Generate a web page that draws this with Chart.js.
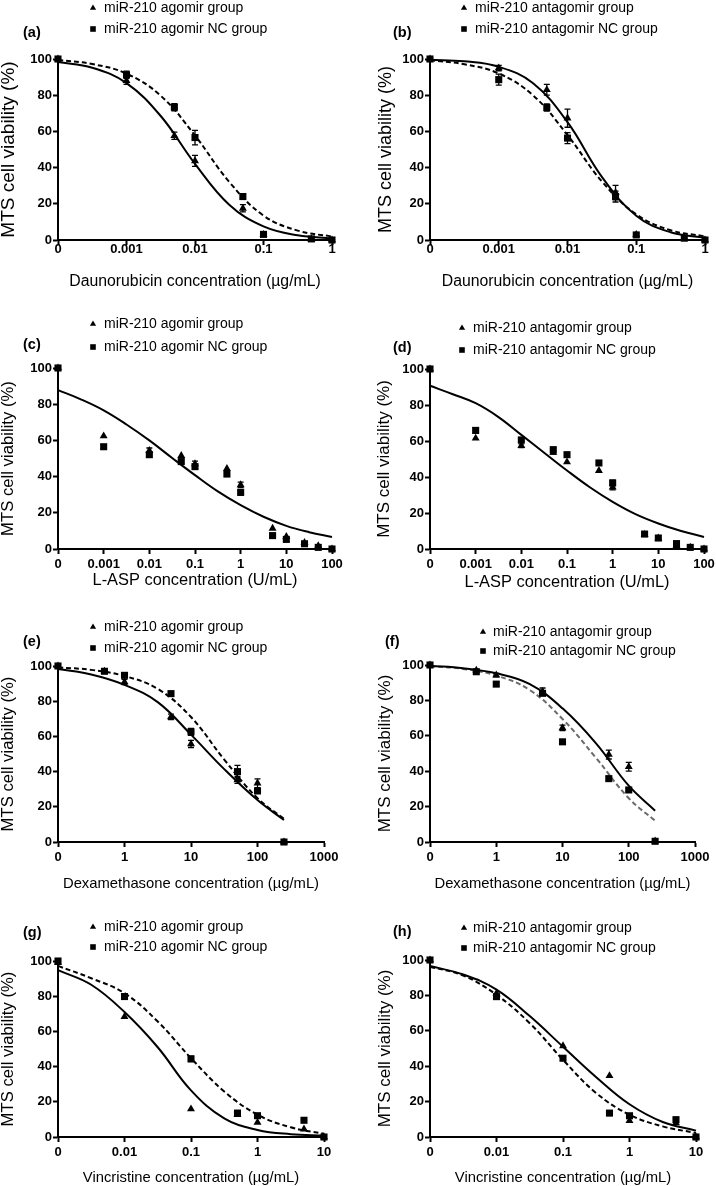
<!DOCTYPE html>
<html><head><meta charset="utf-8">
<script src="https://cdn.jsdelivr.net/npm/chart.js@4.4.1/dist/chart.umd.min.js"></script>
<style>
html,body{margin:0;padding:0;background:#fff;width:716px;height:1186px;overflow:hidden;position:relative}
canvas{position:absolute}
</style></head><body>
<script>
const FONT = '"Liberation Sans", Arial, Helvetica, sans-serif';
const yTitleText = 'MTS cell viability (%)';
const agomirLabels = ['miR-210 agomir group', 'miR-210 agomir NC group'];
const antagomirLabels = ['miR-210 antagomir group', 'miR-210 antagomir NC group'];

// ---- Daunorubicin (a, b) ----
const daunoDoses = [0, 0.001, 0.005, 0.01, 0.05, 0.1, 0.5, 1];
const daunoTickValues = [0, 0.001, 0.01, 0.1, 1];
const daunoTickLabels = ['0', '0.001', '0.01', '0.1', '1'];
const daunoFitDoses = [0, 0.000316, 0.001, 0.00316, 0.01, 0.0316, 0.1, 0.316, 1];
const a_agomir = [100, 88, 57.6, 43.7, 17.5, 3, 0.5, 0];
const a_agomirErr = [0, 2, 2, 3, 2, 0, 0, 0];
const a_agomirNC = [100, 91.3, 73.4, 56.6, 24, 3.1, 0.6, 0];
const a_agomirNCErr = [0, 2, 2, 4, 1.5, 0, 0, 0];
const a_fitAgomir = [98.3, 95.2, 86.7, 68.5, 42.1, 19.5, 7.5, 2.6, 0.9];
const a_fitAgomirNC = [99.5, 97.2, 91.9, 79.7, 57.7, 32.1, 13.5, 5.2, 1.9];
const b_antagomir = [100, 95, 83, 67.3, 26.2, 3, 1, 0];
const b_antagomirErr = [0, 1.5, 3, 5, 4, 0, 0, 0];
const b_antagomirNC = [100, 88.6, 73.2, 56.3, 24, 2.8, 1, 0];
const b_antagomirNCErr = [0, 3, 2, 3, 3, 1, 0, 0];
const b_fitAntagomir = [99.6, 98.7, 95.7, 86.6, 65.1, 34.9, 13.4, 4.3, 1.3];
const b_fitAntagomirNC = [99.4, 97.1, 92, 79.9, 58, 32.4, 14.2, 5.4, 2];

// ---- L-ASP (c, d) ----
const aspDoses = [0, 0.001, 0.01, 0.05, 0.1, 0.5, 1, 5, 10, 25, 50, 100];
const aspTickValues = [0, 0.001, 0.01, 0.1, 1, 10, 100];
const aspTickLabels = ['0', '0.001', '0.01', '0.1', '1', '10', '100'];
const aspFitDoses = [0, 0.000316, 0.001, 0.00316, 0.01, 0.0316, 0.1, 0.316, 1, 3.16, 10, 31.6, 100];
const c_agomir = [100, 62.4, 54.3, 51.6, 47, 44.4, 35.4, 11.4, 6.8, 3.5, 1.7, 0];
const c_agomirErr = [0, 0, 1.5, 0, 1.5, 0, 1.5, 0, 0, 0, 0, 0];
const c_agomirNC = [100, 56.5, 52.1, 48.3, 45.5, 41.4, 31.3, 7.4, 5.3, 2.9, 0.9, 0];
const c_agomirNCErr = [0, 1, 1, 1, 1, 1, 1.5, 1, 0, 0, 0, 0];
const c_fit = [87.8, 82.7, 76.6, 68.8, 60, 50.3, 40.8, 31.8, 24.2, 17.8, 12.8, 9.3, 6.6];
const d_antagomir = [100, 61.5, 57.4, 53.7, 48.3, 43.5, 34.3, 8, 6, 1.8, 0.9, 0];
const d_antagomirErr = [0, 0, 1, 1, 0, 0, 1.5, 0, 0, 0, 0, 0];
const d_antagomirNC = [100, 65.9, 60.6, 55.2, 52.4, 47.8, 36.7, 8.3, 6.1, 3, 0.9, 0];
const d_antagomirNCErr = [0, 1.5, 1, 1, 1, 1, 1.5, 0, 0, 1, 0, 0];
const d_fit = [90.7, 86, 81, 73.3, 63.4, 53.5, 43.6, 34.3, 26.2, 19.4, 14.2, 10, 6.7];

// ---- Dexamethasone (e, f) ----
const dexDoses = [0, 0.5, 1, 5, 10, 50, 100, 250];
const dexTickValues = [0, 1, 10, 100, 1000];
const dexTickLabels = ['0', '1', '10', '100', '1000'];
const dexFitDoses = [0, 0.316, 1, 3.16, 10, 31.6, 100, 250];
const e_agomir = [100, 97, 90.9, 71.1, 55.7, 35.3, 33.4, 0];
const e_agomirErr = [0, 0, 1.5, 1.5, 2, 2, 2.5, 0];
const e_agomirNC = [100, 97, 94.7, 84.3, 62.6, 40, 29, 0];
const e_agomirNCErr = [0, 0, 1, 1, 2, 3.5, 1, 0];
const e_fitAgomir = [98.3, 95.2, 89.3, 79.5, 61, 41.4, 23.8, 12.5];
const e_fitAgomirNC = [99.2, 97.8, 94.3, 87, 71, 46.8, 24.9, 13.2];
const f_antagomir = [100, 97, 94.3, 85, 64.5, 49.4, 42.5, 0.5];
const f_antagomirErr = [0, 0, 1, 2, 1.5, 2.5, 2.5, 0];
const f_antagomirNC = [100, 96.2, 89.2, 84, 56.6, 35.8, 29.4, 0.4];
const f_antagomirNCErr = [0, 0, 1, 1, 1, 1, 1, 1];
const f_fitAntagomir = [99.5, 98.2, 95.3, 89.3, 75.5, 56, 31.8, 17.7];
const f_fitAntagomirNC = [99.3, 97.8, 94, 86, 69.5, 47.8, 24.7, 12];

// ---- Vincristine (g, h) ----
const vinDoses = [0, 0.01, 0.1, 0.5, 1, 5, 10];
const vinTickValues = [0, 0.01, 0.1, 1, 10];
const vinTickLabels = ['0', '0.01', '0.1', '1', '10'];
const vinFitDoses = [0, 0.00316, 0.01, 0.0316, 0.1, 0.316, 1, 3.16, 10];
const g_agomir = [99, 68.4, 15.9, 12.6, 8.3, 4.5, 0];
const g_agomirErr = [0, 0, 0, 0, 0, 0, 0];
const g_agomirNC = [100, 79.8, 44.4, 13.6, 12.1, 9.5, 0];
const g_agomirNCErr = [1, 1, 1.5, 1, 0, 0, 0];
const g_fitAgomir = [94.8, 86.5, 71, 51, 26.5, 10.6, 4, 1.6, 0.8];
const g_fitAgomirNC = [97.2, 90.2, 81.7, 65.6, 44.8, 25.9, 12.7, 5.5, 1.9];
const h_antagomir = [100, 81.2, 51.5, 34.6, 9.2, 7.9, 0];
const h_antagomirErr = [0, 0, 0, 0, 0, 0, 0];
const h_antagomirNC = [100, 79.3, 44.5, 13.5, 12, 9.8, 0];
const h_antagomirNCErr = [1, 1, 1, 0, 0, 1, 0];
const h_fitAntagomir = [96.6, 91.8, 83.3, 68.3, 51, 33.8, 18.5, 8.5, 3.6];
const h_fitAntagomirNC = [96.2, 91.2, 80.3, 64.3, 43.6, 24.8, 12.6, 6, 2.3];

const SOLID = {dash: [], color: '#000'};
const DASHED = {dash: [5, 3], color: '#000'};
const GREYDASH = {dash: [5, 3], color: '#6a6a6a'};

const panels = [
  {label: '(a)', box: {x: 0, y: 0, w: 358, h: 300}, plot: {L: 58, T: 59, R: 332, B: 240},
   doses: daunoDoses, tickValues: daunoTickValues, tickLabels: daunoTickLabels, fitDoses: daunoFitDoses,
   series: agomirLabels, tri: a_agomir, triErr: a_agomirErr, sq: a_agomirNC, sqErr: a_agomirNCErr,
   fits: [[a_fitAgomir, SOLID], [a_fitAgomirNC, DASHED]],
   xTitle: 'Daunorubicin concentration (µg/mL)', xTitleSize: 15.8, xTitleCY: 282, xTickPad: -3.8,
   yTitleSize: 19, yTitleCX: 8.5, legend: {mx: 93, tx: 104, y: [8, 29]}, lab: {x: 23, y: 33}},
  {label: '(b)', box: {x: 358, y: 0, w: 380, h: 300}, plot: {L: 430, T: 59, R: 705, B: 240},
   doses: daunoDoses, tickValues: daunoTickValues, tickLabels: daunoTickLabels, fitDoses: daunoFitDoses,
   series: antagomirLabels, tri: b_antagomir, triErr: b_antagomirErr, sq: b_antagomirNC, sqErr: b_antagomirNCErr,
   fits: [[b_fitAntagomir, SOLID], [b_fitAntagomirNC, DASHED]],
   xTitle: 'Daunorubicin concentration (µg/mL)', xTitleSize: 15.8, xTitleCY: 282, xTickPad: -3.8,
   yTitleSize: 18, yTitleCX: 386, legend: {mx: 464, tx: 475, y: [8, 29]}, lab: {x: 393, y: 33}},
  {label: '(c)', box: {x: 0, y: 295, w: 358, h: 305}, plot: {L: 58, T: 368, R: 332, B: 549},
   doses: aspDoses, tickValues: aspTickValues, tickLabels: aspTickLabels, fitDoses: aspFitDoses,
   series: agomirLabels, tri: c_agomir, triErr: c_agomirErr, sq: c_agomirNC, sqErr: c_agomirNCErr,
   fits: [[c_fit, SOLID]],
   xTitle: 'L-ASP concentration (U/mL)', xTitleSize: 16.4, xTitleCY: 580, xTickPad: 2.7,
   yTitleSize: 16.7, yTitleCX: 8.5, legend: {mx: 93, tx: 104, y: [324, 347]}, lab: {x: 23, y: 345}},
  {label: '(d)', box: {x: 358, y: 295, w: 380, h: 305}, plot: {L: 430, T: 369, R: 704, B: 549},
   doses: aspDoses, tickValues: aspTickValues, tickLabels: aspTickLabels, fitDoses: aspFitDoses,
   series: antagomirLabels, tri: d_antagomir, triErr: d_antagomirErr, sq: d_antagomirNC, sqErr: d_antagomirNCErr,
   fits: [[d_fit, SOLID]],
   xTitle: 'L-ASP concentration (U/mL)', xTitleSize: 16.4, xTitleCY: 582, xTickPad: 2.7,
   yTitleSize: 17, yTitleCX: 384, legend: {mx: 462, tx: 473, y: [328, 350]}, lab: {x: 393, y: 348}},
  {label: '(e)', box: {x: 0, y: 590, w: 358, h: 310}, plot: {L: 58, T: 666, R: 324, B: 842},
   doses: dexDoses, tickValues: dexTickValues, tickLabels: dexTickLabels, fitDoses: dexFitDoses,
   series: agomirLabels, tri: e_agomir, triErr: e_agomirErr, sq: e_agomirNC, sqErr: e_agomirNCErr,
   fits: [[e_fitAgomir, SOLID], [e_fitAgomirNC, DASHED]],
   xTitle: 'Dexamethasone concentration (µg/mL)', xTitleSize: 14.8, xTitleCY: 884, xTickPad: 2.7,
   yTitleSize: 16.7, yTitleCX: 8.5, legend: {mx: 93, tx: 104, y: [627, 648]}, lab: {x: 23, y: 642}},
  {label: '(f)', box: {x: 358, y: 590, w: 380, h: 310}, plot: {L: 430, T: 665, R: 695, B: 842},
   doses: dexDoses, tickValues: dexTickValues, tickLabels: dexTickLabels, fitDoses: dexFitDoses,
   series: antagomirLabels, tri: f_antagomir, triErr: f_antagomirErr, sq: f_antagomirNC, sqErr: f_antagomirNCErr,
   fits: [[f_fitAntagomir, SOLID], [f_fitAntagomirNC, GREYDASH]],
   xTitle: 'Dexamethasone concentration (µg/mL)', xTitleSize: 14.8, xTitleCY: 884, xTickPad: 2.7,
   yTitleSize: 17, yTitleCX: 385, legend: {mx: 483, tx: 493, y: [632, 651]}, lab: {x: 385, y: 642}},
  {label: '(g)', box: {x: 0, y: 885, w: 358, h: 310}, plot: {L: 58, T: 961, R: 324, B: 1137},
   doses: vinDoses, tickValues: vinTickValues, tickLabels: vinTickLabels, fitDoses: vinFitDoses,
   series: agomirLabels, tri: g_agomir, triErr: g_agomirErr, sq: g_agomirNC, sqErr: g_agomirNCErr,
   fits: [[g_fitAgomir, SOLID], [g_fitAgomirNC, DASHED]],
   xTitle: 'Vincristine concentration (µg/mL)', xTitleSize: 14.8, xTitleCY: 1178, xTickPad: 2.7,
   yTitleSize: 16.7, yTitleCX: 8.5, legend: {mx: 93, tx: 104, y: [927, 947]}, lab: {x: 23, y: 933}},
  {label: '(h)', box: {x: 358, y: 885, w: 380, h: 310}, plot: {L: 430, T: 960, R: 696, B: 1137},
   doses: vinDoses, tickValues: vinTickValues, tickLabels: vinTickLabels, fitDoses: vinFitDoses,
   series: antagomirLabels, tri: h_antagomir, triErr: h_antagomirErr, sq: h_antagomirNC, sqErr: h_antagomirNCErr,
   fits: [[h_fitAntagomir, SOLID], [h_fitAntagomirNC, DASHED]],
   xTitle: 'Vincristine concentration (µg/mL)', xTitleSize: 14.8, xTitleCY: 1178, xTickPad: 2.7,
   yTitleSize: 17, yTitleCX: 385, legend: {mx: 464, tx: 473, y: [928, 948]}, lab: {x: 393, y: 932}}
];

const decor = {
  id: 'decor',
  afterDatasetsDraw(chart, args, o) {
    const ctx = chart.ctx, xs = chart.scales.x, ys = chart.scales.y;
    ctx.save();
    ctx.strokeStyle = '#000'; ctx.lineWidth = 1.3;
    chart.data.datasets.forEach(ds => {
      if (!ds.errors) return;
      ds.data.forEach((p, i) => {
        const e = ds.errors[i];
        if (!e) return;
        const x = xs.getPixelForValue(p.x);
        const y1 = ys.getPixelForValue(p.y + e), y2 = ys.getPixelForValue(Math.max(0, p.y - e));
        ctx.beginPath();
        ctx.moveTo(x, y1); ctx.lineTo(x, y2);
        ctx.moveTo(x - 3, y1); ctx.lineTo(x + 3, y1);
        ctx.moveTo(x - 3, y2); ctx.lineTo(x + 3, y2);
        ctx.stroke();
      });
    });
    ctx.restore();
  },
  afterDraw(chart, args, o) {
    const ctx = chart.ctx;
    ctx.save();
    ctx.fillStyle = '#000';
    ctx.textBaseline = 'middle'; ctx.textAlign = 'left';
    ctx.font = 'bold 14.5px ' + FONT;
    ctx.fillText(o.label, o.labX, o.labY);
    ctx.font = '14px ' + FONT;
    [0, 1].forEach(k => {
      const ds = chart.data.datasets[k];
      const x = o.mx, y = o.ly[k];
      ctx.beginPath();
      if (ds.pointStyle === 'triangle') {
        const r = 3.6;
        ctx.moveTo(x, y - r); ctx.lineTo(x + r * 0.866, y + r / 2); ctx.lineTo(x - r * 0.866, y + r / 2);
        ctx.closePath();
      } else {
        ctx.rect(x - 2.8, y - 2.8, 5.6, 5.6);
      }
      ctx.fill();
      ctx.fillText(ds.label, o.tx, y);
    });
    ctx.restore();
  }
};

Chart.defaults.font.family = FONT;
Chart.defaults.color = '#000';

function buildPanel(p) {
  const cv = document.createElement('canvas');
  cv.width = p.box.w; cv.height = p.box.h;
  cv.style.left = p.box.x + 'px'; cv.style.top = p.box.y + 'px';
  cv.style.width = p.box.w + 'px'; cv.style.height = p.box.h + 'px';
  document.body.appendChild(cv);
  const zeroAt = p.tickValues[1] / 10;
  const xv = d => d === 0 ? zeroAt : d;
  const pts = (xs, ys) => xs.map((d, i) => ({x: xv(d), y: ys[i]}));
  const datasets = [
    {label: p.series[0], data: pts(p.doses, p.tri), errors: p.triErr, pointStyle: 'triangle', pointRadius: 4.6,
     backgroundColor: '#000', borderColor: '#000', borderWidth: 0, showLine: false, clip: false},
    {label: p.series[1], data: pts(p.doses, p.sq), errors: p.sqErr, pointStyle: 'rect', pointRadius: 5,
     backgroundColor: '#000', borderColor: '#000', borderWidth: 0, showLine: false, clip: false}
  ];
  p.fits.forEach(([vals, st], k) => datasets.push({
    label: 'fit' + k, data: pts(p.fitDoses, vals), showLine: true, pointRadius: 0,
    borderColor: st.color, borderWidth: 2, borderDash: st.dash, tension: 0.4,
    fill: false, clip: false
  }));
  const grid = {drawOnChartArea: false, drawTicks: true, tickLength: 5, tickWidth: 2, tickColor: '#000', color: '#000'};
  const border = {display: true, color: '#000', width: 2};
  const tickFont = {family: FONT, size: 13, weight: 'bold'};
  new Chart(cv, {
    type: 'scatter',
    data: {datasets},
    plugins: [decor],
    options: {
      responsive: false, animation: false, devicePixelRatio: 1, events: [],
      layout: {padding: {left: 0, bottom: 0, top: p.plot.T - p.box.y, right: p.box.x + p.box.w - p.plot.R}},
      plugins: {
        legend: {display: false}, tooltip: {enabled: false},
        decor: {label: p.label, labX: p.lab.x - p.box.x, labY: p.lab.y - p.box.y,
                mx: p.legend.mx - p.box.x, tx: p.legend.tx - p.box.x, ly: p.legend.y.map(v => v - p.box.y)}
      },
      scales: {
        x: {
          type: 'logarithmic', position: 'bottom', min: zeroAt, max: p.tickValues[p.tickValues.length - 1],
          afterBuildTicks: s => { s.ticks = p.tickValues.map(v => ({value: xv(v)})); },
          afterFit: s => { s.height = p.box.y + p.box.h - p.plot.B; },
          ticks: {autoSkip: false, maxRotation: 0, minRotation: 0, padding: p.xTickPad, color: '#000', font: tickFont,
                  callback: (v, i) => p.tickLabels[i]},
          grid, border,
          title: {display: true, text: p.xTitle, color: '#000', font: {family: FONT, size: p.xTitleSize},
                  padding: {top: 0, bottom: p.box.y + p.box.h - p.xTitleCY - p.xTitleSize * 0.6}}
        },
        y: {
          type: 'linear', position: 'left', min: 0, max: 100,
          afterFit: s => { s.width = p.plot.L - p.box.x; },
          ticks: {stepSize: 20, padding: 1, color: '#000', font: tickFont},
          grid, border,
          title: {display: true, text: yTitleText, color: '#000', font: {family: FONT, size: p.yTitleSize},
                  padding: {top: p.yTitleCX - p.box.x - p.yTitleSize * 0.6, bottom: 0}}
        }
      }
    }
  });
}
panels.forEach(buildPanel);
</script>
</body></html>
